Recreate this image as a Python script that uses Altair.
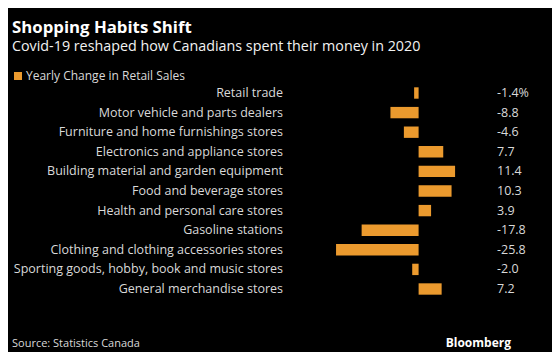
import altair as alt
import pandas as pd

categories = [
    "Retail trade",
    "Motor vehicle and parts dealers",
    "Furniture and home furnishings stores",
    "Electronics and appliance stores",
    "Building material and garden equipment",
    "Food and beverage stores",
    "Health and personal care stores",
    "Gasoline stations",
    "Clothing and clothing accessories stores",
    "Sporting goods, hobby, book and music stores",
    "General merchandise stores",
]
values = [-1.4, -8.8, -4.6, 7.7, 11.4, 10.3, 3.9, -17.8, -25.8, -2.0, 7.2]
value_labels = ["-1.4%", "-8.8", "-4.6", "7.7", "11.4", "10.3", "3.9", "-17.8", "-25.8", "-2.0", "7.2"]
series_name = "Yearly Change in Retail Sales"

df = pd.DataFrame({
    "category": categories,
    "value": values,
    "label": value_labels,
    "series": [series_name] * len(categories),
})

FONT = "Open Sans"
ORANGE = "#eb9a2e"
TEXT = "#d9d9d9"

y_enc = alt.Y(
    "category:N",
    sort=categories,
    scale=alt.Scale(range=[75.2, 290.8], paddingInner=0.42, paddingOuter=0.21),
    axis=None,
)

bars = alt.Chart(df).mark_bar().encode(
    x=alt.X("value:Q", scale=alt.Scale(domain=[-30, 15], range=[314.6, 458.6]), axis=None),
    y=y_enc,
    color=alt.Color(
        "series:N",
        scale=alt.Scale(range=[ORANGE]),
        legend=alt.Legend(
            title=None, orient="none", legendX=4, legendY=62,
            symbolType="square", symbolSize=64, symbolStrokeWidth=0,
            labelColor=TEXT, labelFont=FONT, labelFontSize=12, padding=0,
            labelOffset=2,
        ),
    ),
)

cat_text = alt.Chart(df).mark_text(
    align="right", baseline="middle", font=FONT, fontSize=12.5, color=TEXT
).encode(x=alt.value(275), y=y_enc, text="category:N")

val_text = alt.Chart(df).mark_text(
    align="left", baseline="middle", font=FONT, fontSize=12.5, color=TEXT
).encode(x=alt.value(489), y=y_enc, text="label:N")

def note(txt, x, y, size, weight="normal", color=TEXT, align="left"):
    return alt.Chart(pd.DataFrame({"t": [txt]})).mark_text(
        align=align, baseline="alphabetic", font=FONT, fontSize=size,
        fontWeight=weight, color=color,
    ).encode(x=alt.value(x), y=alt.value(y), text="t:N")

title = note("Shopping Habits Shift", 4, 24.5, 16.8, "bold", "#ffffff")
subtitle = note("Covid-19 reshaped how Canadians spent their money in 2020", 4, 43, 14.3, "normal", "#f2f2f2")
source = note("Source: Statistics Canada", 4, 339, 11)
brand = note("Bloomberg", 503, 339, 12, "bold", "#ffffff", "right")

chart = alt.layer(bars, cat_text, val_text, title, subtitle, source, brand).properties(
    width=544, height=344, background="#000000", padding=0,
    autosize=alt.AutoSizeParams(type="none"),
).configure_view(stroke=None)

chart.save("out.html", embed_options={"renderer": "svg", "actions": False})
